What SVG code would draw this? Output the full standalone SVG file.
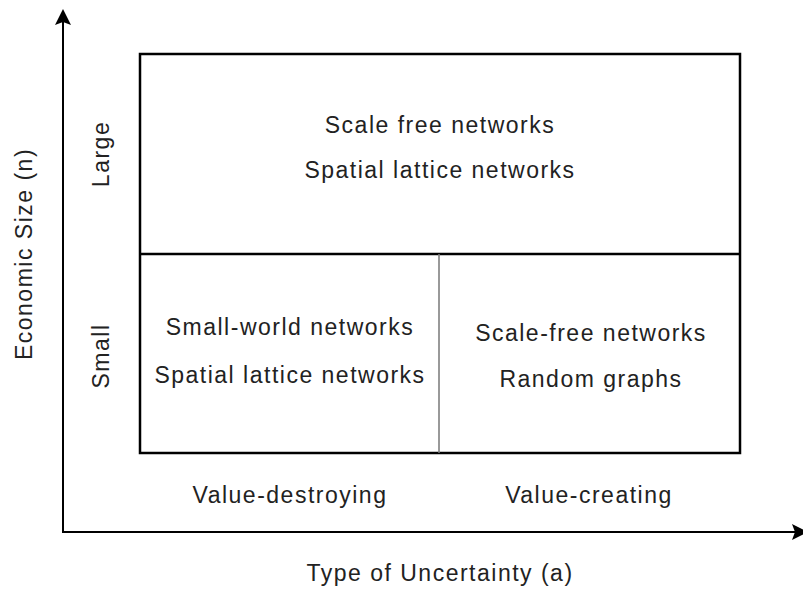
<svg xmlns="http://www.w3.org/2000/svg" width="803" height="589" viewBox="0 0 803 589">
<style>
text{font-family:"Liberation Sans",Arial,sans-serif;font-size:23px;letter-spacing:1.5px;fill:#222;text-anchor:middle}
.ax{stroke:#000;stroke-width:2;fill:none}
.box{stroke:#000;stroke-width:2.5;fill:none}
</style>
<defs>
<marker id="ah" markerWidth="16" markerHeight="16" refX="14" refY="8" orient="auto" markerUnits="userSpaceOnUse">
<path d="M0,0 L16,8 L0,16 L3,8 Z" fill="#000"/>
</marker>
</defs>
<g id="connectors">
<line class="ax" x1="63" y1="532" x2="63" y2="11" marker-end="url(#ah)"/>
<line class="ax" x1="62" y1="532" x2="806" y2="532" marker-end="url(#ah)"/>
</g>
<g id="grid">
<rect class="box" x="140" y="54" width="600" height="399"/>
<line class="box" x1="140" y1="254" x2="740" y2="254"/>
<line x1="439" y1="254" x2="439" y2="453" stroke="#777" stroke-width="1.5"/>
</g>
<g id="large">
<text x="440" y="133">Scale free networks</text>
<text x="440" y="178">Spatial lattice networks</text>
</g>
<g id="small-destroying">
<text x="290" y="335">Small-world networks</text>
<text x="290" y="383">Spatial lattice networks</text>
</g>
<g id="small-creating">
<text x="591" y="341">Scale-free networks</text>
<text x="591" y="387">Random graphs</text>
</g>
<g id="labels">
<text x="290" y="503">Value-destroying</text>
<text x="589" y="503">Value-creating</text>
<text x="440" y="581">Type of Uncertainty (a)</text>
<text transform="translate(32,254) rotate(-90)">Economic Size (n)</text>
<text transform="translate(109,154) rotate(-90)">Large</text>
<text transform="translate(109,356) rotate(-90)">Small</text>
</g>
</svg>
